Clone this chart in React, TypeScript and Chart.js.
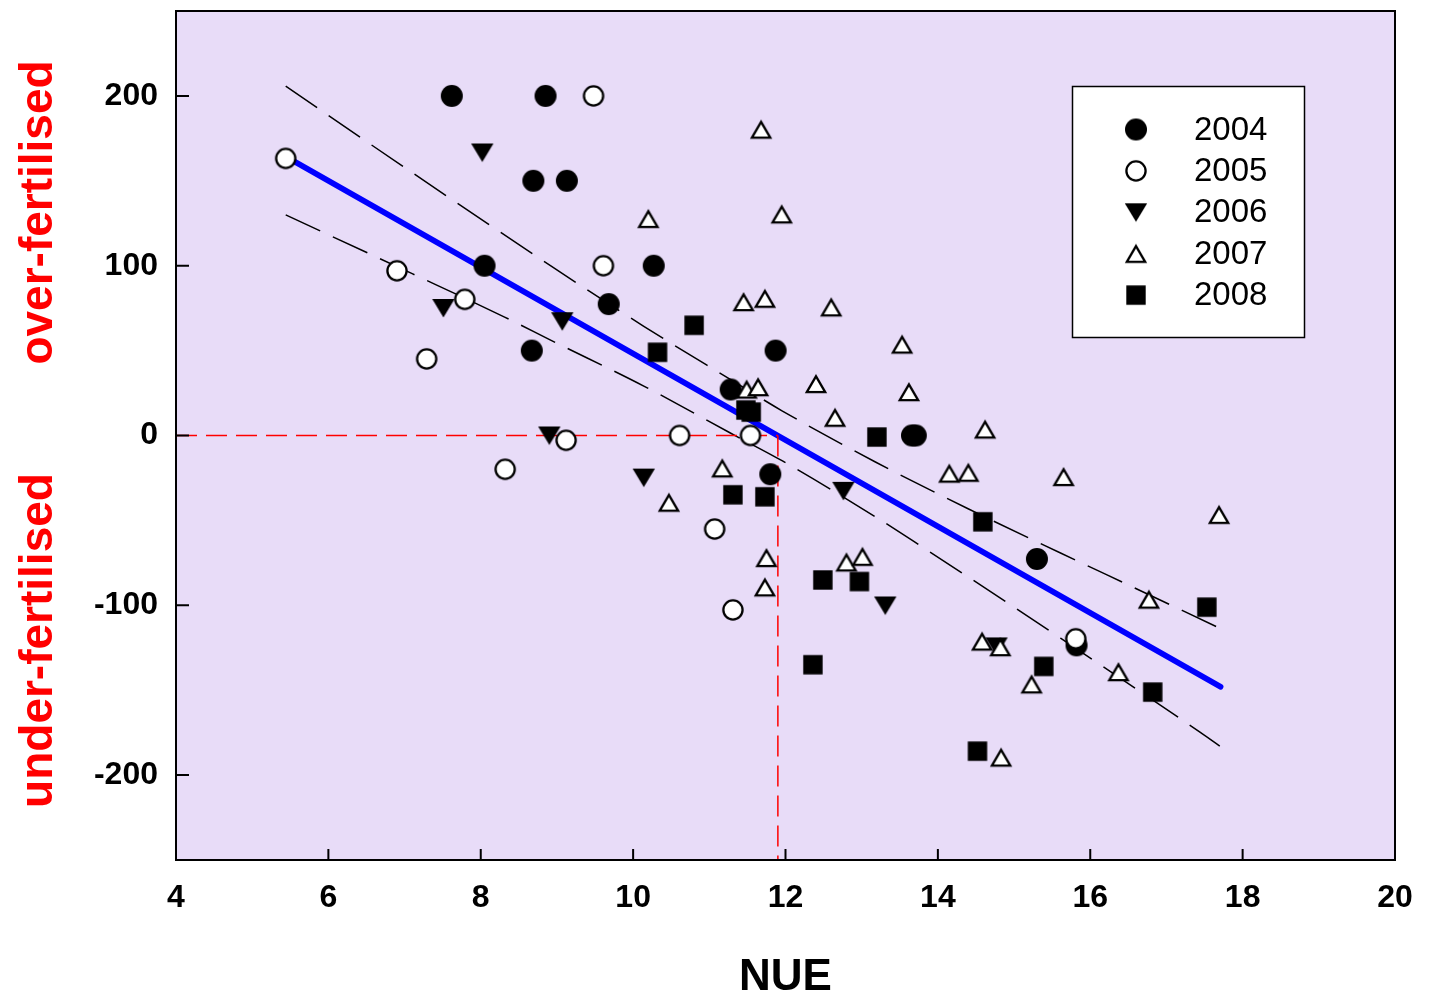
import React, { useEffect, useRef } from "react";
import { Chart, registerables } from "chart.js";

Chart.register(...registerables);

// ---------- data ----------
const X_TICKS = [4, 6, 8, 10, 12, 14, 16, 18, 20];
const Y_TICKS = [-200, -100, 0, 100, 200];
const X_MIN = 4;
const X_MAX = 20;
const Y_MIN = -250;
const Y_MAX = 250;

const YEARS = ["2004", "2005", "2006", "2007", "2008"];

const NUE_2004 = [7.62, 8.85, 8.69, 9.13, 8.05, 10.27, 9.68, 8.67, 11.87, 11.28, 13.66, 13.71, 11.8, 15.3, 15.82];
const DEV_2004 = [200, 200, 150, 150, 100, 100, 77.4, 50, 50, 27.1, 0, 0, -22.8, -72.7, -123.6];

const NUE_2005 = [5.44, 9.48, 6.9, 7.79, 7.29, 8.32, 9.61, 9.12, 10.61, 11.54, 11.07, 11.31, 15.81];
const DEV_2005 = [163.2, 200, 97, 80.2, 45.1, -19.9, 100, -2.8, 0, 0, -55.1, -102.7, -119.7];

const NUE_2006 = [8.02, 7.51, 9.07, 8.9, 10.14, 12.76, 13.31, 14.77];
const DEV_2006 = [166.7, 75.1, 67.3, 0, -24.8, -32.6, -100.1, -124.2];

const NUE_2007 = [11.68, 10.2, 11.95, 11.45, 11.73, 12.6, 11.49, 11.64, 12.4, 12.65, 13.53, 13.62, 14.62, 14.15, 14.4, 15.65, 17.69, 11.17, 10.47, 11.75, 11.73, 12.8, 13.01, 14.58, 14.82, 15.23, 16.37, 16.77, 14.83];
const DEV_2007 = [180.2, 127.6, 130.3, 78.6, 80.6, 75.5, 27.1, 28.5, 30.4, 10.5, 53.6, 25.6, 3.6, -22.4, -21.9, -24.4, -46.7, -19.3, -39.5, -72.1, -89.4, -74.7, -71.4, -121.3, -124.6, -146.5, -139.3, -96.6, -189.6];

const NUE_2008 = [10.8, 10.32, 11.48, 11.55, 13.2, 11.31, 11.73, 14.59, 12.49, 12.97, 12.36, 15.39, 17.53, 16.82, 14.52];
const DEV_2008 = [64.9, 49.0, 15.0, 13.8, -0.9, -34.9, -36.1, -50.8, -85.1, -86.0, -135.0, -136.0, -101.1, -151.1, -185.9];

// regression line
const FIT_X = [5.45, 17.71];
const FIT_Y = [164, -148];

// confidence band
const UPPER_X = [5.44, 7.1, 8.93, 10.14, 11.27, 11.96, 13.18, 14.39, 15.61, 16.22, 17.7];
const UPPER_Y = [205.7, 154.8, 99.6, 64.3, 33.2, 14.4, -15.6, -43.0, -69.2, -82.1, -113.5];
const LOWER_X = [5.44, 7.1, 8.32, 8.93, 10.14, 11.27, 11.96, 13.18, 13.79, 15.0, 15.61, 17.44, 17.7];
const LOWER_Y = [129.9, 95.3, 69.6, 55.9, 29.1, 1.6, -15.0, -47.9, -65.5, -101.1, -119.4, -174.7, -182.9];

// reference lines (deviation = 0 at NUE ~ 11.9)
const REF_H_X = [4, 11.9];
const REF_H_Y = [0, 0];
const REF_V_X = [11.9, 11.9];
const REF_V_Y = [0, -250];

const LABEL_OVER = "over-fertilised";
const LABEL_UNDER = "under-fertilised";
const X_TITLE = "NUE";

// ---------- helpers ----------
const FONT = "'Liberation Sans', Arial, sans-serif";
const zip = (xs: number[], ys: number[]) => xs.map((x, i) => ({ x, y: ys[i] }));

function makeMarker(kind: string): HTMLCanvasElement {
  const c = document.createElement("canvas");
  c.width = 26;
  c.height = 26;
  const g = c.getContext("2d")!;
  g.lineJoin = "miter";
  if (kind === "filledCircle") {
    g.beginPath();
    g.arc(13, 13, 11, 0, Math.PI * 2);
    g.fillStyle = "#000";
    g.fill();
  } else if (kind === "openCircle") {
    g.beginPath();
    g.arc(13, 13, 9.6, 0, Math.PI * 2);
    g.fillStyle = "#fff";
    g.fill();
    g.lineWidth = 2.3;
    g.strokeStyle = "#000";
    g.stroke();
  } else if (kind === "downTri") {
    g.beginPath();
    g.moveTo(1.8, 4);
    g.lineTo(24.2, 4);
    g.lineTo(13, 22.6);
    g.closePath();
    g.fillStyle = "#000";
    g.fill();
  } else if (kind === "upTri") {
    g.beginPath();
    g.moveTo(13, 5.4);
    g.lineTo(22.2, 21.2);
    g.lineTo(3.8, 21.2);
    g.closePath();
    g.fillStyle = "#fff";
    g.fill();
    g.lineWidth = 2.3;
    g.strokeStyle = "#000";
    g.stroke();
  } else {
    g.fillStyle = "#000";
    g.fillRect(3.3, 3.3, 19.4, 19.4);
  }
  return c;
}

export default function App() {
  const ref = useRef<HTMLCanvasElement | null>(null);

  useEffect(() => {
    if (!ref.current) return;
    const markers = [
      makeMarker("filledCircle"),
      makeMarker("openCircle"),
      makeMarker("downTri"),
      makeMarker("upTri"),
      makeMarker("square"),
    ];
    const series = [
      zip(NUE_2004, DEV_2004),
      zip(NUE_2005, DEV_2005),
      zip(NUE_2006, DEV_2006),
      zip(NUE_2007, DEV_2007),
      zip(NUE_2008, DEV_2008),
    ];

    const pointSets = YEARS.map((yr, i) => ({
      label: yr,
      data: series[i],
      showLine: false,
      pointStyle: markers[i],
      pointRadius: 10,
      pointHoverRadius: 10,
      order: 5 - i,
    }));

    const lineBase = {
      showLine: true,
      pointRadius: 0,
      pointHoverRadius: 0,
      fill: false,
    };

    const datasets: any[] = [
      ...pointSets,
      {
        ...lineBase,
        label: "ref-h",
        data: zip(REF_H_X, REF_H_Y),
        borderColor: "#ff0000",
        borderWidth: 1.5,
        borderDash: [21, 9],
        order: 7,
      },
      {
        ...lineBase,
        label: "ref-v",
        data: zip(REF_V_X, REF_V_Y),
        borderColor: "#ff0000",
        borderWidth: 1.5,
        borderDash: [21, 9],
        order: 7,
      },
      {
        ...lineBase,
        label: "fit",
        data: zip(FIT_X, FIT_Y),
        borderColor: "#0000ff",
        borderWidth: 5.8,
        borderCapStyle: "round",
        order: 8,
      },
      {
        ...lineBase,
        label: "upper",
        data: zip(UPPER_X, UPPER_Y),
        borderColor: "#000",
        borderWidth: 1.5,
        borderDash: [38, 14],
        cubicInterpolationMode: "monotone",
        order: 9,
      },
      {
        ...lineBase,
        label: "lower",
        data: zip(LOWER_X, LOWER_Y),
        borderColor: "#000",
        borderWidth: 1.5,
        borderDash: [38, 14],
        cubicInterpolationMode: "monotone",
        order: 9,
      },
    ];

    const bgPlugin = {
      id: "bg",
      beforeDraw(chart: any) {
        const { ctx, chartArea: a } = chart;
        ctx.save();
        ctx.fillStyle = "#ffffff";
        ctx.fillRect(0, 0, chart.width, chart.height);
        ctx.fillStyle = "#E8DCF8";
        ctx.fillRect(a.left, a.top, a.right - a.left, a.bottom - a.top);
        ctx.restore();
      },
    };

    const framePlugin = {
      id: "frame",
      afterDraw(chart: any) {
        const { ctx, chartArea: a, scales } = chart;
        ctx.save();
        ctx.strokeStyle = "#000";
        ctx.lineWidth = 2;
        ctx.strokeRect(a.left, a.top, a.right - a.left, a.bottom - a.top);
        ctx.beginPath();
        for (const v of Y_TICKS) {
          const p = scales.y.getPixelForValue(v);
          ctx.moveTo(a.left, p);
          ctx.lineTo(a.left + 13, p);
        }
        for (const v of X_TICKS) {
          const p = scales.x.getPixelForValue(v);
          ctx.moveTo(p, a.bottom);
          ctx.lineTo(p, a.bottom - 11);
        }
        ctx.stroke();

        // side labels
        ctx.fillStyle = "#ff0000";
        ctx.font = `bold 46px ${FONT}`;
        ctx.textAlign = "center";
        ctx.textBaseline = "alphabetic";
        const drawRot = (text: string, x: number, y: number) => {
          ctx.save();
          ctx.translate(x, y);
          ctx.rotate(-Math.PI / 2);
          ctx.fillText(text, 0, 0);
          ctx.restore();
        };
        drawRot(LABEL_OVER, 52, 212.5);
        drawRot(LABEL_UNDER, 52, 640.5);

        // legend
        const lx = 1072.5, ly = 86.5, lw = 232, lh = 251;
        ctx.fillStyle = "#ffffff";
        ctx.fillRect(lx, ly, lw, lh);
        ctx.lineWidth = 1.5;
        ctx.strokeStyle = "#000";
        ctx.strokeRect(lx, ly, lw, lh);
        ctx.font = `33px ${FONT}`;
        ctx.fillStyle = "#000";
        ctx.textAlign = "left";
        ctx.textBaseline = "middle";
        YEARS.forEach((yr, i) => {
          const cy = 129.5 + i * 41.4;
          const m = markers[i];
          ctx.drawImage(m, 1136 - m.width / 2, cy - m.height / 2);
          ctx.fillText(yr, 1194, cy + 1);
        });
        ctx.restore();
      },
    };

    const zeroPad = (s: any) => {
      s.paddingTop = 0;
      s.paddingBottom = 0;
      s.paddingLeft = 0;
      s.paddingRight = 0;
    };

    const tickFont = { family: FONT, size: 32, weight: "bold" as const, lineHeight: 1 };

    const chart = new Chart(ref.current, {
      type: "scatter",
      data: { datasets },
      options: {
        responsive: false,
        animation: false,
        events: [],
        layout: { padding: { left: 0, top: 10, right: 34, bottom: 0 } },
        plugins: {
          legend: { display: false },
          tooltip: { enabled: false },
        },
        scales: {
          x: {
            type: "linear",
            min: X_MIN,
            max: X_MAX,
            afterBuildTicks: (s: any) => {
              s.ticks = X_TICKS.map((v) => ({ value: v }));
            },
            afterFit: (s: any) => {
              s.height = 134;
              zeroPad(s);
            },
            grid: { display: false, drawTicks: false },
            border: { display: false },
            ticks: {
              font: tickFont,
              color: "#000",
              padding: 22,
              maxRotation: 0,
              autoSkip: false,
              callback: (v: any) => String(v),
            },
            title: {
              display: true,
              text: X_TITLE,
              color: "#000",
              font: { family: FONT, size: 44, weight: "bold", lineHeight: 1 },
              padding: { top: 0, bottom: -6 },
            },
          },
          y: {
            type: "linear",
            min: Y_MIN,
            max: Y_MAX,
            afterBuildTicks: (s: any) => {
              s.ticks = Y_TICKS.map((v) => ({ value: v }));
            },
            afterFit: (s: any) => {
              s.width = 176;
              zeroPad(s);
            },
            grid: { display: false, drawTicks: false },
            border: { display: false },
            ticks: {
              font: tickFont,
              color: "#000",
              padding: 18,
              autoSkip: false,
              callback: (v: any) => String(v),
            },
          },
        },
      } as any,
      plugins: [bgPlugin, framePlugin],
    });

    return () => chart.destroy();
  }, []);

  return (
    <div style={{ position: "fixed", left: 0, top: 0, width: 1429, height: 994, background: "#fff" }}>
      <canvas ref={ref} width={1429} height={994} style={{ display: "block" }} />
    </div>
  );
}
